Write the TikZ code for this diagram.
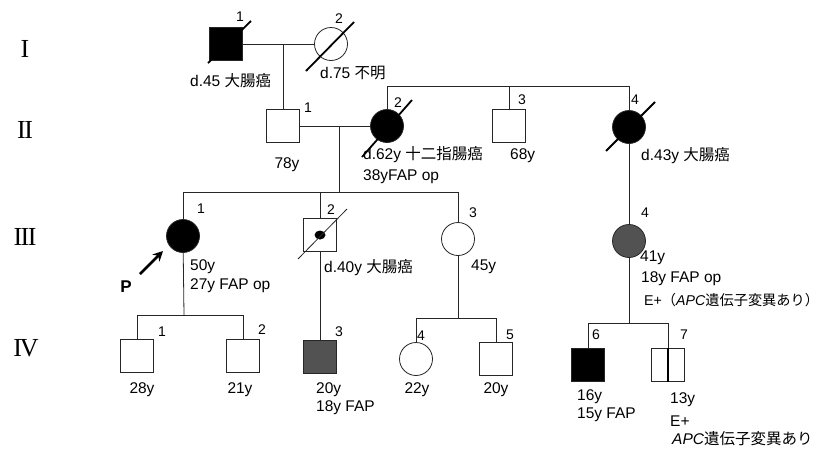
\documentclass[tikz,border=0pt]{standalone}
\usepackage{fontspec}
\setmainfont{Liberation Sans}
\newfontfamily\romanfont{Liberation Serif}
\newfontfamily\cjk{Noto Sans CJK JP}
\usetikzlibrary{arrows.meta,calc}
\begin{document}
\begin{tikzpicture}[x=1pt,y=-1pt,
  ln/.style={draw=black!85, line width=0.8pt},
  male/.style={rectangle, draw=black!85, line width=0.8pt, minimum size=33pt, inner sep=0pt, fill=white},
  female/.style={circle, draw=black!85, line width=0.8pt, minimum size=33pt, inner sep=0pt, fill=white},
  aff/.style={fill=black},
  grey/.style={fill=black!68},
  num/.style={font=\fontsize{14}{14}\selectfont, inner sep=0pt},
  lab/.style={font=\fontsize{15.5}{17}\selectfont, inner sep=0pt, anchor=west},
  labc/.style={font=\fontsize{15.5}{17}\selectfont, inner sep=0pt},
  labs/.style={font=\fontsize{14.2}{17}\selectfont, inner sep=0pt, anchor=west},
  gen/.style={font=\romanfont\fontsize{26}{26}\selectfont, inner sep=0pt},
  dead/.style={draw=black, line width=1.8pt},
  deadthin/.style={draw=black!85, line width=0.8pt}
]
\useasboundingbox (0,0) rectangle (825,448);

% generation labels
\node[gen] (gI) at (25,49) {I};
\node[gen] (gII) at (25,130) {I\kern-1.5pt I};
\node[gen] (gIII) at (25,237) {I\kern-1.5pt I\kern-1.5pt I};
\node[gen] (gIV) at (26,348) {I\kern-2pt V};

% coordinates for junctions
\coordinate (m1) at (283,44);
\coordinate (m2) at (339,126);
\coordinate (s3) at (339,192);
\coordinate (s3L) at (183,192);
\coordinate (s3R) at (458,192);
\coordinate (s2L) at (387,86);
\coordinate (s2M) at (509,86);
\coordinate (s2R) at (629,86);
\coordinate (s4a) at (184,315);
\coordinate (s4aL) at (137,315);
\coordinate (s4aR) at (243,315);
\coordinate (s4b) at (458,318);
\coordinate (s4bL) at (416,318);
\coordinate (s4bR) at (496,318);
\coordinate (s4c) at (629,323);
\coordinate (s4cL) at (588,323);
\coordinate (s4cR) at (668,323);

% connectors (drawn first)
\draw[ln] (226,44) -- (331,44);
\draw[ln] (m1) -- (283,126);
\draw[ln] (283,126) -- (387,126);
\draw[ln] (m2) -- (s3);
\draw[ln] (s3L) -- (s3R);
\draw[ln] (s3L) -- (183,236);
\draw[ln] (320,192) -- (320,235);
\draw[ln] (s3R) -- (458,239);
\draw[ln] (s2L) -- (s2R);
\draw[ln] (s2L) -- (387,126);
\draw[ln] (s2M) -- (509,126);
\draw[ln] (s2R) -- (629,241);
\draw[ln] (183,236) -- (s4a);
\draw[ln] (s4aL) -- (s4aR);
\draw[ln] (s4aL) -- (137,356);
\draw[ln] (s4aR) -- (243,356);
\draw[ln] (320,235) -- (320,357);
\draw[ln] (458,239) -- (s4b);
\draw[ln] (s4bL) -- (s4bR);
\draw[ln] (s4bL) -- (416,359);
\draw[ln] (s4bR) -- (496,359);
\draw[ln] (629,241) -- (s4c);
\draw[ln] (s4cL) -- (s4cR);
\draw[ln] (s4cL) -- (588,365);
\draw[ln] (s4cR) -- (668,365);

% Generation I
\node[male,aff] (I1) at (226,44) {};
\node[female] (I2) at (331,44) {};
\draw[dead] ($(I1)+(-18,19)$) -- ($(I1)+(25,-23)$);
\draw[dead] ($(I2)+(-25,27)$) -- ($(I2)+(23,-22)$);
\node[num] (nI1) at (240,17) {1};
\node[num] (nI2) at (339,19) {2};
\node[lab] (tI1) at (190,81) {d.45 {\cjk 大腸癌}};
\node[lab] (tI2) at (320,73) {d.75 {\cjk 不明}};

% Generation II
\node[male] (II1) at (283,126) {};
\node[female,aff] (II2) at (387,126) {};
\node[male] (II3) at (509,126) {};
\node[female,aff] (II4) at (629,127) {};
\draw[dead] ($(II2)+(-25,31)$) -- ($(II2)+(25,-26)$);
\draw[dead] ($(II4)+(-23,24)$) -- ($(II4)+(26,-25)$);
\node[num] (nII1) at (308,108) {1};
\node[num] (nII2) at (398,103) {2};
\node[num] (nII3) at (522,100) {3};
\node[num] (nII4) at (635,100) {4};
\node[labc] (tII1) at (287,165) {78y};
\node[lab] (tII2a) at (363,155) {d.62y {\cjk 十二指腸癌}};
\node[lab] (tII2b) at (363,177) {38yFAP op};
\node[lab] (tII3) at (510,156) {68y};
\node[lab] (tII4) at (641,156) {d.43y {\cjk 大腸癌}};

% Generation III
\node[female,aff] (III1) at (183,236) {};
\node[male] (III2) at (320,235) {};
\fill (III2.center) ellipse (5.5pt and 4.5pt);
\draw[deadthin] ($(III2)+(-22,24)$) -- ($(III2)+(27,-26)$);
\node[female] (III3) at (458,239) {};
\node[female,grey] (III4) at (629,241) {};
\node[num] (nIII1) at (201,209) {1};
\node[num] (nIII2) at (331,210) {2};
\node[num] (nIII3) at (473,213) {3};
\node[num] (nIII4) at (645,213) {4};
\node[lab] (tIII1a) at (190,267) {50y};
\node[lab] (tIII1b) at (190,286) {27y FAP op};
\node[lab] (tIII2) at (324,268) {d.40y {\cjk 大腸癌}};
\node[lab] (tIII3) at (471,267) {45y};
\node[lab] (tIII4a) at (640,258) {41y};
\node[lab] (tIII4b) at (641,279) {18y FAP op};
\node[labs] (tIII4c) at (644,300) {E+{\cjk （}\textit{APC}{\cjk 遺伝子変異あり）}};
% proband arrow
\node[font=\bfseries\fontsize{17}{17}\selectfont, inner sep=0pt] (P) at (126,287) {P};
\coordinate (Pa) at (140,274);
\coordinate (Pb) at (163,251);
\draw[line width=2.6pt, -{Stealth[length=10pt,width=10pt]}] (Pa) -- (Pb);

% Generation IV
\node[male] (IV1) at (137,356) {};
\node[male] (IV2) at (243,356) {};
\node[male,grey] (IV3) at (320,357) {};
\node[female] (IV4) at (416,359) {};
\node[male] (IV5) at (496,359) {};
\node[male,aff] (IV6) at (588,365) {};
\node[male] (IV7) at (668,365) {};
\draw[black, line width=2.2pt] (IV7.north) -- (IV7.south);
\node[num] (nIV1) at (162,332) {1};
\node[num] (nIV2) at (262,330) {2};
\node[num] (nIV3) at (339,332) {3};
\node[num] (nIV4) at (421,336) {4};
\node[num] (nIV5) at (510,335) {5};
\node[num] (nIV6) at (596,335) {6};
\node[num] (nIV7) at (684,335) {7};
\node[labc] (tIV1) at (142,390) {28y};
\node[labc] (tIV2) at (240,390) {21y};
\node[lab] (tIV3a) at (316,390) {20y};
\node[lab] (tIV3b) at (316,408) {18y FAP};
\node[labc] (tIV4) at (417,390) {22y};
\node[labc] (tIV5) at (496,390) {20y};
\node[lab] (tIV6a) at (577,397) {16y};
\node[lab] (tIV6b) at (577,415) {15y FAP};
\node[lab] (tIV7a) at (670,400) {13y};
\node[lab] (tIV7b) at (670,421) {E+};
\node[lab] (tIV7c) at (672,439) {\textit{APC}{\cjk 遺伝子変異あり}};
\end{tikzpicture}
\end{document}
